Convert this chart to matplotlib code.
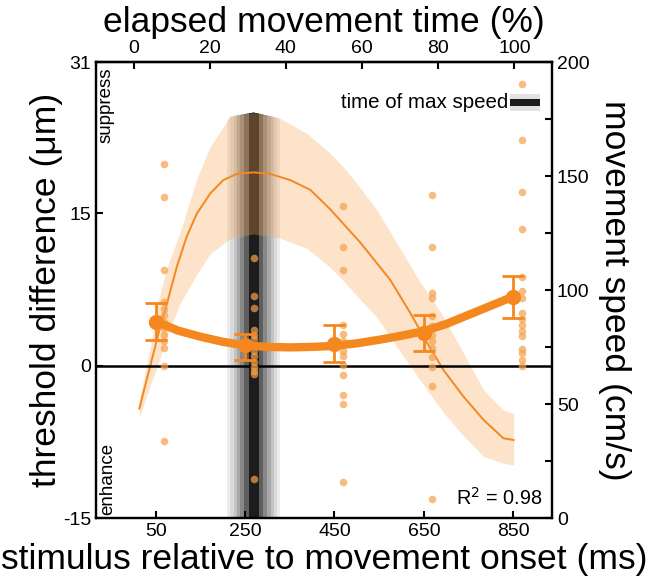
import numpy as np
import matplotlib
matplotlib.use('Agg')
import matplotlib.pyplot as plt
from matplotlib.patches import Polygon, Rectangle

plt.rcParams['font.family'] = ['Liberation Sans', 'DejaVu Sans']

# group means of threshold difference (um) with error bar ends
stim_ms = [50, 250, 450, 650, 850]
thr_mean = [4.3, 2.0, 2.1, 3.2, 6.8]
thr_hi = [6.2, 3.1, 4.0, 5.0, 8.8]
thr_lo = [2.5, 0.6, 0.4, 1.4, 4.7]

# single subjects, one list per stimulus time
subj_50 = [19.9, 16.6, 9.4, 6.3, 5.6, 5.0, 4.3, 3.7, 3.0, 2.4, 1.7, 0.0, -7.4]
subj_250 = [10.6, 6.9, 5.7, 3.5, 3.0, 2.6, 1.9, 1.4, 1.0, 0.4, -0.1, -0.5, -0.8, -11.2]
subj_450 = [15.7, 11.7, 9.4, 4.0, 3.1, 2.4, 1.4, 1.0, 0.1, -0.9, -2.9, -3.8, -11.5]
subj_650 = [16.8, 11.7, 7.2, 6.7, 4.9, 3.9, 3.0, 2.4, 1.7, 0.9, -0.1, -2.0, -13.1]
subj_850 = [27.7, 22.2, 17.1, 13.5, 8.7, 7.4, 6.7, 5.2, 4.6, 4.0, 3.4, 2.9, 1.6, 1.2, 0.6, 0.0]
subj_offset = 19

# fitted curve through the means
fit_ms = [50, 100, 150, 200, 250, 300, 350, 400, 450, 500, 550, 600, 650, 700, 750, 800, 850]
fit_thr = [4.35, 3.45, 2.85, 2.35, 2.0, 1.85, 1.8, 1.85, 1.95, 2.2, 2.55, 2.95, 3.4, 4.1, 5.0, 5.9, 6.8]

# movement speed (cm/s), mean curve
spd_ms = [13, 37, 56, 75, 97, 119, 142, 172, 201, 231, 269, 306, 351, 396, 440, 470,
          507, 530, 575, 620, 657, 694, 739, 784, 828, 851]
spd_mean = [48, 66.4, 81, 94.2, 110.2, 123.4, 133.6, 142.4, 148.2, 150.9, 151.6, 150.9, 148.2,
            143.9, 135.5, 129, 121, 115.4, 104.4, 89.8, 77, 64.9, 53.2, 43, 35, 34.2]
# speed band
band_ms = [13, 37, 56, 75, 104, 142, 172, 216, 269, 328, 388, 440, 470, 507, 545, 590, 640,
           665, 695, 739, 784, 828, 851]
band_hi = [52, 74, 95.6, 110, 125, 149, 163, 176, 177.8, 175.3, 168.7, 160, 154, 145, 135,
           120.5, 104, 97, 88, 72.2, 56.1, 47.4, 45.9]
band_lo = [44, 58, 68, 80, 94, 107, 116, 122.5, 124.6, 122.7, 118.3, 110, 104, 96, 88, 75, 61,
           54, 46, 36, 27, 24, 23.2]

peak_ms = 269  # time of max speed

orange = '#f5871f'
dot_c = '#f6a04b'
band_c = '#f7a350'

fig = plt.figure(figsize=(6.46, 5.85), dpi=100)
ax = fig.add_axes([0.1486, 0.1145, 0.7059, 0.7795])
ax2 = ax.twinx()
ax.set_zorder(ax2.get_zorder() + 1)
ax.patch.set_visible(False)

ax.set_xlim(-84, 937)
ax.set_ylim(-15, 29.9)
ax2.set_ylim(0, 200)

# spread of max speed time, clipped under the upper speed band
clip = Polygon(list(zip(band_ms, band_hi)) + [(band_ms[-1], 0), (band_ms[0], 0)],
               closed=True, facecolor='none', edgecolor='none')
ax2.add_patch(clip)
halfw = [59, 52, 45, 38, 30, 22, 11]
grays = ['#ececec', '#dadada', '#c4c4c4', '#a8a8a8', '#888888', '#5e5e5e', '#1c1c1c']
for hw, g in zip(halfw, grays):
    r = ax2.axvspan(peak_ms - hw, peak_ms + hw, color=g, lw=0, zorder=1)
    r.set_clip_path(clip)

ax2.fill_between(band_ms, band_lo, band_hi, color=band_c, alpha=0.3, lw=0, zorder=2)
ax2.plot(spd_ms, spd_mean, color=orange, lw=1.4, zorder=3)

ax.axhline(0, color='k', lw=1.8, zorder=2)
for s, pts in zip(stim_ms, [subj_50, subj_250, subj_450, subj_650, subj_850]):
    ax.scatter([s + subj_offset] * len(pts), pts, s=30, color=dot_c, alpha=0.7, lw=0, zorder=3)

ax.plot(fit_ms, fit_thr, color=orange, lw=6, solid_capstyle='round',
        solid_joinstyle='round', zorder=4)
yerr = [np.array(thr_mean) - np.array(thr_lo), np.array(thr_hi) - np.array(thr_mean)]
ax.errorbar(stim_ms, thr_mean, yerr=yerr, fmt='o', ms=10, color=orange, ecolor=orange,
            elinewidth=2, capsize=8, capthick=2, zorder=5)

# ticks and spines
for a in (ax, ax2):
    for sp in a.spines.values():
        sp.set_linewidth(1.6)
ax.tick_params(direction='in', length=5, width=1.5, labelsize=14)
ax2.tick_params(direction='in', length=5, width=1.5, labelsize=14)
ax.set_xticks(stim_ms)
ax.set_yticks([-15, 0, 15, 29.9])
ax.set_yticklabels(['-15', '0', '15', '31'])
ax2.set_yticks(list(range(0, 201, 25)))
ax2.set_yticklabels([str(v) if v % 50 == 0 else '' for v in range(0, 201, 25)])

sec = ax.secondary_xaxis('top', functions=(lambda x: x / 8.53, lambda p: p * 8.53))
sec.set_xticks([0, 20, 40, 60, 80, 100])
sec.tick_params(direction='in', length=5, width=1.5, labelsize=14)
sec.spines['top'].set_linewidth(1.6)

ax.set_xlabel('stimulus relative to movement onset (ms)', fontsize=25.5, labelpad=2)
ax.set_ylabel('threshold difference (μm)', fontsize=25.5, labelpad=0)
ax2.set_ylabel('movement speed (cm/s)', fontsize=25.5, rotation=270, labelpad=30)
sec.set_xlabel('elapsed movement time (%)', fontsize=25.5, labelpad=6)

ax.text(0.022, 0.989, 'suppress', transform=ax.transAxes, rotation=90,
        ha='center', va='top', fontsize=13.5)
ax.text(0.026, 0.007, 'enhance', transform=ax.transAxes, rotation=90,
        ha='center', va='bottom', fontsize=13.5)
ax.text(0.98, 0.02, 'R$^2$ = 0.98', transform=ax.transAxes, ha='right', va='bottom', fontsize=14.3)

# legend for max speed band
ax.add_patch(Rectangle((0.908, 0.893), 0.066, 0.037, transform=ax.transAxes,
                       color='#e2e2e2', lw=0, zorder=6))
ax.add_patch(Rectangle((0.908, 0.904), 0.066, 0.014, transform=ax.transAxes,
                       color='#1c1c1c', lw=0, zorder=7))
ax.text(0.905, 0.912, 'time of max speed', transform=ax.transAxes,
        ha='right', va='center', fontsize=14.8)

fig.savefig('out.png', dpi=100)
